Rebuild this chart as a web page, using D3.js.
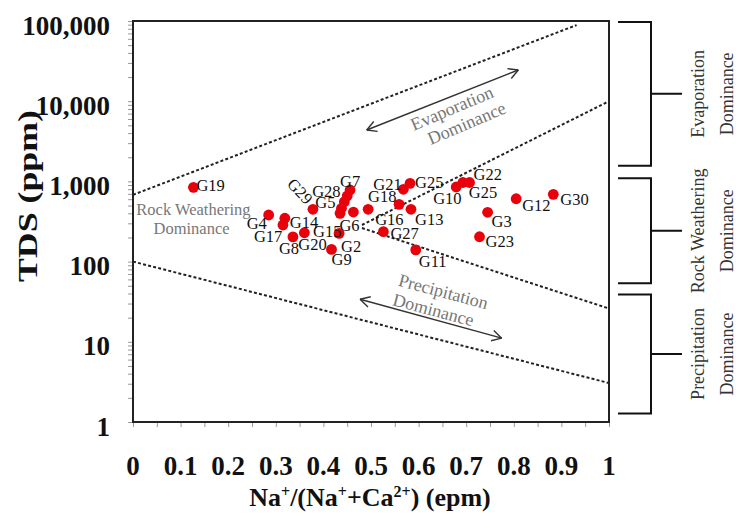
<!DOCTYPE html>
<html>
<head>
<meta charset="utf-8">
<script src="https://cdn.jsdelivr.net/npm/d3@7"></script>
<style>
  body { margin: 0; background: #fff; }
  svg { display: block; font-family: "Liberation Serif", "Times New Roman", serif; }
</style>
</head>
<body>
<svg id="chart" width="736" height="520"></svg>
<script>
// sample values
const sampleIds = ['G19', 'G4', 'G14', 'G17', 'G8', 'G20', 'G29', 'G9', 'G2', 'G7', 'G28', 'G5', '', 'G15', 'G6',
  'G16', 'G27', 'G18', 'G21', 'G25', 'G13', 'G11', 'G10', 'G25', 'G22', 'G3', 'G23', 'G12', 'G30'];
const naRatio = [0.127, 0.285, 0.319, 0.315, 0.336, 0.360, 0.378, 0.417, 0.433, 0.456, 0.450, 0.444, 0.438, 0.435, 0.463,
  0.494, 0.526, 0.559, 0.568, 0.582, 0.584, 0.594, 0.679, 0.693, 0.707, 0.745, 0.728, 0.805, 0.883];
const tds = [843, 381, 347, 286, 203, 229, 449, 142, 225, 781, 658, 558, 462, 400, 415,
  449, 236, 518, 797, 946, 449, 140, 851, 969, 969, 412, 204, 608, 690];

// label placement (px offset of label left edge / vertical centre from the point)
const labelOffset = [[3, -2], [-22, 8], [5, 4], [-29, 12], [-14, 12], [-6, 12], [-13, -18], [0, 10], [2, 13], [-10, -9],
  [-35, -4], [-29, 1], [0, 0], [-27, 18], [-14, 13], [7, 10], [7, 2], [-31, -8], [-30, -5], [5, -1], [4, 10], [3, 12],
  [-23, 11], [6, 10], [4, -8], [4, 9], [6, 5], [6, 7], [7, 5]];

// axes
const xTickLabels = ['0', '0.1', '0.2', '0.3', '0.4', '0.5', '0.6', '0.7', '0.8', '0.9', '1'];
const yTickValues = [1, 10, 100, 1000, 10000, 100000];

// dashed boundary lines [ratio, tds]
const boundaries = [
  [[0, 680], [0.932, 89000]],
  [[0.481, 286], [1, 10000]],
  [[0.481, 262], [1, 26]],
  [[0, 100], [1, 3.06]]
];

// dominance arrows and their captions
const evapArrow = [[0.491, 4375], [0.8095, 24500]];
const precipArrow = [[0.477, 33.9], [0.7746, 11.1]];
const zoneCaptions = [
  { lines: ['Evaporation', 'Dominance'], at: [[0.670, 8150], [0.701, 5300]], angle: -23 },
  { lines: ['Precipitation', 'Dominance'], at: [[0.652, 42.2], [0.631, 25]], angle: 15 },
  { lines: ['Rock Weathering', 'Dominance'], at: [[0.127, 440], [0.123, 260]], angle: 0 }
];

// right hand brackets
const zoneNames = [['Evaporation', 'Dominance'], ['Rock Weathering', 'Dominance'], ['Precipitation', 'Dominance']];
const zoneRanges = [[97000, 1570], [1094, 53.6], [39, 1.28]];

const width = 736, height = 520;
const margin = { top: 21, right: 127, bottom: 98, left: 133 };

const svg = d3.select('#chart');

const x = d3.scaleLinear().domain([0, 1]).range([margin.left, width - margin.right]);
const y = d3.scaleLog().domain([1, 100000]).range([height - margin.bottom, margin.top]);

// minor / major ticks on x
const xAxis = d3.axisBottom(x).tickValues(d3.range(0, 1.0001, 0.05)).tickSize(5).tickFormat('');
svg.append('g')
  .attr('transform', `translate(0,${y.range()[0]})`)
  .call(xAxis)
  .call(g => g.select('.domain').remove())
  .call(g => g.selectAll('.tick line').attr('stroke', '#999'));

// log ticks on y
const yMinor = [];
for (let d = 1; d < 100000; d *= 10) for (let k = 1; k < 10; k++) yMinor.push(d * k);
yMinor.push(100000);
svg.append('g')
  .attr('transform', `translate(${x.range()[0]},0)`)
  .call(d3.axisLeft(y).tickValues(yMinor).tickSize(5).tickFormat(''))
  .call(g => g.select('.domain').remove())
  .call(g => g.selectAll('.tick line').attr('stroke', '#999'));

// tick labels
svg.append('g').selectAll('text')
  .data(xTickLabels)
  .join('text')
  .attr('x', (d, i) => x(i / 10))
  .attr('y', 475)
  .attr('text-anchor', 'middle')
  .attr('font-size', 27)
  .attr('font-weight', 'bold')
  .attr('fill', '#111')
  .text(d => d);

svg.append('g').selectAll('text')
  .data(yTickValues)
  .join('text')
  .attr('x', 110)
  .attr('y', d => y(d))
  .attr('dy', '0.5em')
  .attr('text-anchor', 'end')
  .attr('font-size', 27)
  .attr('font-weight', 'bold')
  .attr('fill', '#111')
  .text(d => d3.format(',')(d));

// axis titles
svg.append('text')
  .attr('transform', 'translate(37,196) rotate(-90)')
  .attr('text-anchor', 'middle')
  .attr('font-size', 28)
  .attr('font-weight', 'bold')
  .attr('textLength', 172)
  .attr('lengthAdjust', 'spacingAndGlyphs')
  .attr('fill', '#111')
  .text('TDS (ppm)');

const xTitle = svg.append('text')
  .attr('x', 370)
  .attr('y', 506)
  .attr('text-anchor', 'middle')
  .attr('font-size', 26)
  .attr('font-weight', 'bold')
  .attr('fill', '#111');
[['Na', 0], ['+', 1], ['/(Na', 0], ['+', 1], ['+Ca', 0], ['2+', 1], [') (epm)', 0]].forEach(([t, sup]) => {
  const ts = xTitle.append('tspan').text(t);
  if (sup) ts.attr('font-size', 16).attr('baseline-shift', '55%');
});

// boundaries
const line = d3.line().x(d => x(d[0])).y(d => y(d[1]));
svg.append('g').selectAll('path')
  .data(boundaries)
  .join('path')
  .attr('d', line)
  .attr('fill', 'none')
  .attr('stroke', '#222')
  .attr('stroke-width', 2)
  .attr('stroke-dasharray', '3,2.2');

// double headed arrows
function arrow(pts) {
  const [a, b] = pts.map(p => [x(p[0]), y(p[1])]);
  const g = svg.append('g').attr('stroke', '#333').attr('stroke-width', 1.4).attr('fill', 'none');
  g.append('line').attr('x1', a[0]).attr('y1', a[1]).attr('x2', b[0]).attr('y2', b[1]);
  const ang = Math.atan2(b[1] - a[1], b[0] - a[0]);
  const head = (p, dir) => {
    const h = 11, spread = 0.5;
    [-spread, spread].forEach(s => {
      g.append('line')
        .attr('x1', p[0]).attr('y1', p[1])
        .attr('x2', p[0] - dir * h * Math.cos(ang + s))
        .attr('y2', p[1] - dir * h * Math.sin(ang + s));
    });
  };
  head(b, 1);
  head(a, -1);
}
arrow(evapArrow);
arrow(precipArrow);

zoneCaptions.forEach(c => {
  c.lines.forEach((t, i) => {
    const px = x(c.at[i][0]), py = y(c.at[i][1]);
    svg.append('text')
      .attr('transform', `translate(${px},${py}) rotate(${c.angle})`)
      .attr('text-anchor', 'middle')
      .attr('dominant-baseline', 'central')
      .attr('font-size', c.angle ? 18 : 16.5)
      .attr('fill', '#777')
      .text(t);
  });
});

// frame
svg.append('rect')
  .attr('x', x(0)).attr('y', y(100000))
  .attr('width', x(1) - x(0)).attr('height', y(1) - y(100000))
  .attr('fill', 'none')
  .attr('stroke', '#222')
  .attr('stroke-width', 2);

// points
const points = svg.append('g');
points.selectAll('circle')
  .data(naRatio)
  .join('circle')
  .attr('cx', d => x(d))
  .attr('cy', (d, i) => y(tds[i]))
  .attr('r', 5.4)
  .attr('fill', '#e8000b');

points.selectAll('text')
  .data(sampleIds)
  .join('text')
  .attr('transform', (d, i) => {
    const px = x(naRatio[i]) + labelOffset[i][0];
    const py = y(tds[i]) + labelOffset[i][1];
    return d === 'G29' ? `translate(${px},${py}) rotate(47)` : `translate(${px},${py})`;
  })
  .attr('text-anchor', d => d === 'G29' ? 'middle' : 'start')
  .attr('dominant-baseline', 'central')
  .attr('font-size', 16.5)
  .attr('fill', '#111')
  .text(d => d);

// dominance brackets on the right
const br = svg.append('g').attr('stroke', '#111').attr('stroke-width', 2).attr('fill', 'none');
zoneRanges.forEach(([top, bot], i) => {
  const y0 = y(top), y1 = y(bot), ym = (y0 + y1) / 2;
  br.append('path').attr('d', `M618,${y0}H651V${y1}H618M651,${ym}H682`);
  zoneNames[i].forEach((t, j) => {
    svg.append('text')
      .attr('transform', `translate(${j ? 733 : 704},${ym}) rotate(-90)`)
      .attr('text-anchor', 'middle')
      .attr('font-size', 18)
      .attr('fill', '#333')
      .text(t);
  });
});
</script>
</body>
</html>
